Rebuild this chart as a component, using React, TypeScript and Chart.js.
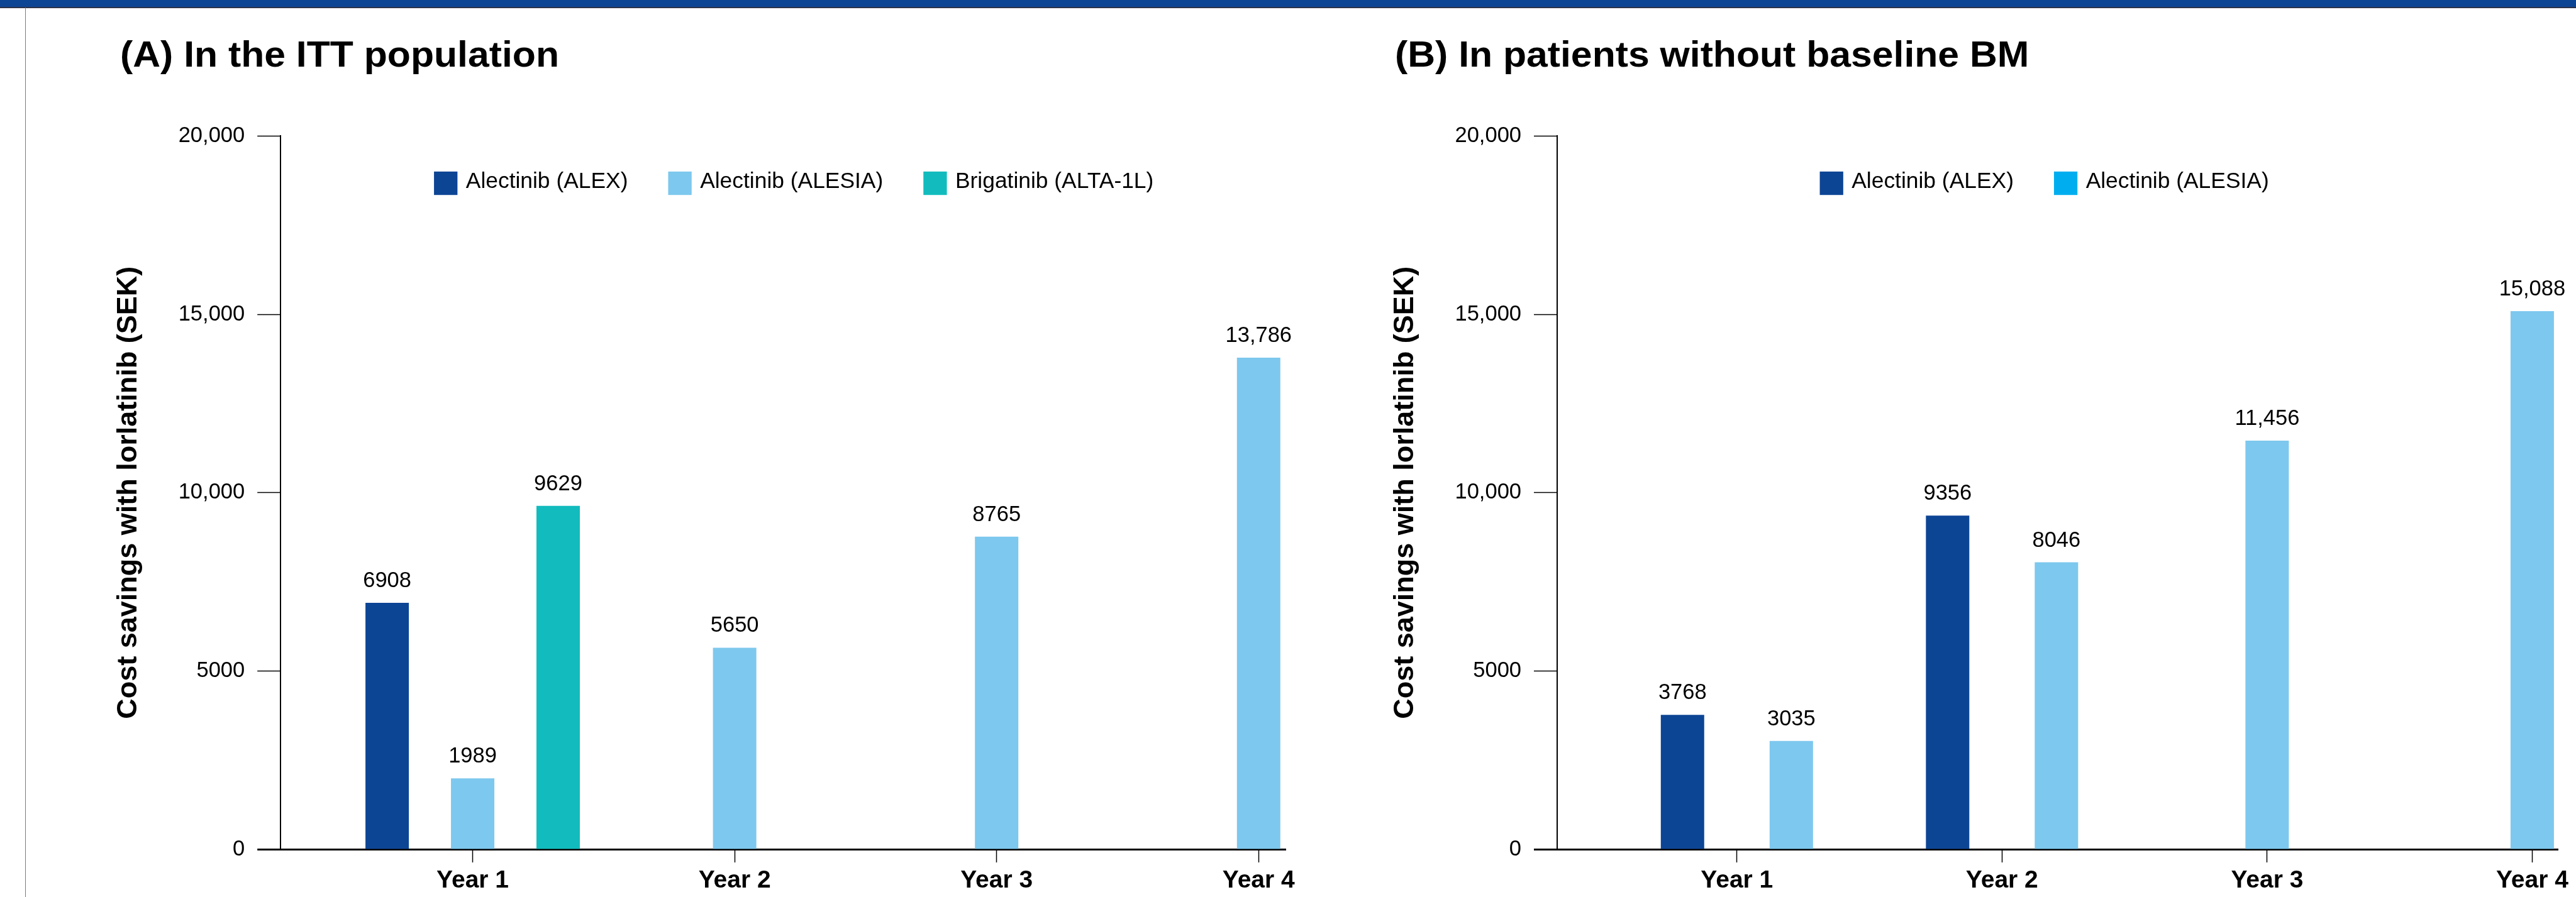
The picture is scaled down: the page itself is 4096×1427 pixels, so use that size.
import React, { useEffect, useRef } from "react";
import { Chart, registerables } from "chart.js";

Chart.register(...registerables);

// ---------- data ----------
const categories = ["Year 1", "Year 2", "Year 3", "Year 4"];
const ittAlex = [6908, null, null, null];
const ittAlesia = [1989, 5650, 8765, 13786];
const ittBrigatinib = [9629, null, null, null];
const noBmAlex = [3768, 9356, null, null];
const noBmAlesia = [3035, 8046, 11456, 15088];
const yTickValues = [0, 5000, 10000, 15000, 20000];
const seriesLabels = ["Alectinib (ALEX)", "Alectinib (ALESIA)", "Brigatinib (ALTA-1L)"];
const titleA = "(A) In the ITT population";
const titleB = "(B) In patients without baseline BM";
const yAxisTitle = "Cost savings with lorlatinib (SEK)";

// ---------- styles ----------
const FONT = '"Liberation Sans", Arial, Helvetica, sans-serif';
const C_ALEX = "#0d4595";
const C_ALESIA = "#7dc8ee";
const C_BRIG = "#12bcbe";
const C_ALESIA_LEGEND_B = "#00aeef";

const W = 4096;
const H = 1427;
const CANVAS_A_W = 2120;
const CANVAS_B_LEFT = 2120;
const CANVAS_B_W = W - CANVAS_B_LEFT;

const fmt = (v: number) => (v >= 10000 ? v.toLocaleString("en-US") : String(v));

const valueLabels = {
  id: "valueLabels",
  afterDatasetsDraw(chart: any, _args: any, opts: any) {
    const ctx = chart.ctx;
    ctx.save();
    ctx.font = `${opts.size}px ${FONT}`;
    ctx.fillStyle = "#000";
    ctx.textAlign = "center";
    ctx.textBaseline = "alphabetic";
    chart.data.datasets.forEach((ds: any, di: number) => {
      const meta = chart.getDatasetMeta(di);
      meta.data.forEach((el: any, i: number) => {
        const p = ds.data[i];
        const v = p ? p.y : null;
        if (v === null || v === undefined) return;
        ctx.fillText(fmt(v), el.x, el.y - opts.gap);
      });
    });
    ctx.restore();
  },
};

const boxLegend = {
  id: "boxLegend",
  afterDraw(chart: any, _args: any, opts: any) {
    const { ctx, chartArea } = chart;
    ctx.save();
    ctx.font = `${opts.size}px ${FONT}`;
    const items = chart.data.datasets.map((ds: any, i: number) => ({
      text: ds.label,
      color: opts.colors[i],
      w: ctx.measureText(ds.label).width,
    }));
    const itemW = items.map((it: any) => opts.box + opts.gap + it.w);
    const total = itemW.reduce((a: number, b: number) => a + b, 0) + opts.spacing * (items.length - 1);
    let x = (chartArea.left + chartArea.right) / 2 + opts.shift - total / 2;
    const top = chartArea.top + opts.offsetY;
    items.forEach((it: any, i: number) => {
      ctx.fillStyle = it.color;
      ctx.fillRect(x, top, opts.box, opts.box);
      ctx.fillStyle = "#000";
      ctx.textAlign = "left";
      ctx.textBaseline = "middle";
      ctx.fillText(it.text, x + opts.box + opts.gap, top + opts.box / 2 - 2);
      x += itemW[i] + opts.spacing;
    });
    ctx.restore();
  },
};

const toPoints = (vals: (number | null)[]) => vals.map((v, i) => ({ x: i + 1, y: v }));

function makeConfig(p: any) {
  return {
    type: "bar",
    data: { datasets: p.datasets },
    options: {
      animation: false,
      responsive: false,
      maintainAspectRatio: false,
      events: [],
      layout: { padding: { left: p.padLeft, right: p.padRight, top: 216.4, bottom: 0 } },
      datasets: {
        bar: {
          skipNull: true,
          categoryPercentage: p.catPct,
          barPercentage: 0.6,
          maxBarThickness: 69,
          borderWidth: 0,
        },
      },
      scales: {
        x: {
          type: "linear",
          min: p.xMin,
          max: p.xMax,
          offset: false,
          grid: {
            display: true,
            drawOnChartArea: false,
            drawTicks: true,
            tickLength: 21,
            tickWidth: 1.5,
            tickColor: "#000",
            offset: false,
          },
          border: { display: true, color: "#000", width: 3 },
          ticks: {
            padding: 6,
            color: "#000",
            font: { family: FONT, size: 39, weight: "bold" },
            maxRotation: 0,
            autoSkip: false,
            callback: (v: number) => categories[Math.round(v) - 1] ?? "",
          },
          afterBuildTicks: (s: any) => {
            s.ticks = categories.map((_, i) => ({ value: i + 1 }));
          },
          afterFit: (s: any) => {
            s.height = 76;
            s.paddingLeft = 0;
            s.paddingRight = 0;
          },
        },
        y: {
          min: 0,
          max: 20000,
          grid: {
            display: true,
            drawOnChartArea: false,
            drawTicks: true,
            tickLength: 37,
            tickWidth: (c: any) => (c.tick && c.tick.value === 0 ? 3 : 1.5),
            tickColor: "#000",
          },
          border: { display: true, color: "#000", width: 2 },
          ticks: {
            padding: 20,
            color: "#000",
            font: { family: FONT, size: 34.5 },
            callback: (v: number) => fmt(v),
          },
          afterBuildTicks: (s: any) => {
            s.ticks = yTickValues.map((v) => ({ value: v }));
          },
          title: {
            display: true,
            text: yAxisTitle,
            color: "#000",
            font: { family: FONT, size: 45, weight: "bold" },
            padding: { top: 11.5, bottom: 0 },
          },
          afterFit: (s: any) => {
            s.width = 280;
          },
        },
      },
      plugins: {
        legend: { display: false },
        tooltip: { enabled: false },
        title: { display: false },
        valueLabels: { size: 34.5, gap: 25 },
        boxLegend: {
          size: 35.4,
          box: 37.3,
          gap: 13.4,
          spacing: 64,
          offsetY: 56.5,
          shift: p.legendShift,
          colors: p.legendColors,
        },
      },
    },
    plugins: [valueLabels, boxLegend],
  };
}

function Panel({ left, width, cfg }: any) {
  const ref = useRef<HTMLCanvasElement | null>(null);
  useEffect(() => {
    if (!ref.current) return;
    const chart = new Chart(ref.current, cfg as any);
    return () => chart.destroy();
  }, []);
  return (
    <canvas
      ref={ref}
      width={width}
      height={H}
      style={{ position: "absolute", left, top: 0, width, height: H, display: "block" }}
    />
  );
}

const cfgA = makeConfig({
  datasets: [
    { label: seriesLabels[0], data: toPoints(ittAlex), backgroundColor: C_ALEX },
    { label: seriesLabels[1], data: toPoints(ittAlesia), backgroundColor: C_ALESIA },
    { label: seriesLabels[2], data: toPoints(ittBrigatinib), backgroundColor: C_BRIG },
  ],
  padLeft: 166.2,
  padRight: 75.8,
  xMin: 0.267,
  xMax: 4.103,
  catPct: 0.979,
  legendShift: 17,
  legendColors: [C_ALEX, C_ALESIA, C_BRIG],
});

const cfgB = makeConfig({
  datasets: [
    { label: seriesLabels[0], data: toPoints(noBmAlex), backgroundColor: C_ALEX },
    { label: seriesLabels[1], data: toPoints(noBmAlesia), backgroundColor: C_ALESIA },
  ],
  padLeft: 76,
  padRight: 28.7,
  xMin: 0.322,
  xMax: 4.097,
  catPct: 0.821,
  legendShift: -21,
  legendColors: [C_ALEX, C_ALESIA_LEGEND_B],
});

const titleStyle: any = {
  position: "absolute",
  top: 58,
  fontFamily: FONT,
  fontWeight: "bold",
  fontSize: 57,
  lineHeight: "57px",
  whiteSpace: "nowrap",
  color: "#000",
  transform: "scaleX(1.065)",
  transformOrigin: "left top",
};

export default function App() {
  return (
    <div
      style={{
        position: "absolute",
        left: 0,
        top: 0,
        width: W,
        height: H,
        background: "#fff",
        overflow: "hidden",
      }}
    >
      <Panel left={0} width={CANVAS_A_W} cfg={cfgA} />
      <Panel left={CANVAS_B_LEFT} width={CANVAS_B_W} cfg={cfgB} />
      <div style={{ position: "absolute", left: 0, top: 0, width: W, height: 11, background: C_ALEX }} />
      <div style={{ position: "absolute", left: 0, top: 11, width: W, height: 1.5, background: "#2a3348" }} />
      <div style={{ position: "absolute", left: 40, top: 12, width: 1.2, height: H - 12, background: "#7a7a7a" }} />
      <div style={{ ...titleStyle, left: 191 }}>{titleA}</div>
      <div style={{ ...titleStyle, left: 2218 }}>{titleB}</div>
    </div>
  );
}
